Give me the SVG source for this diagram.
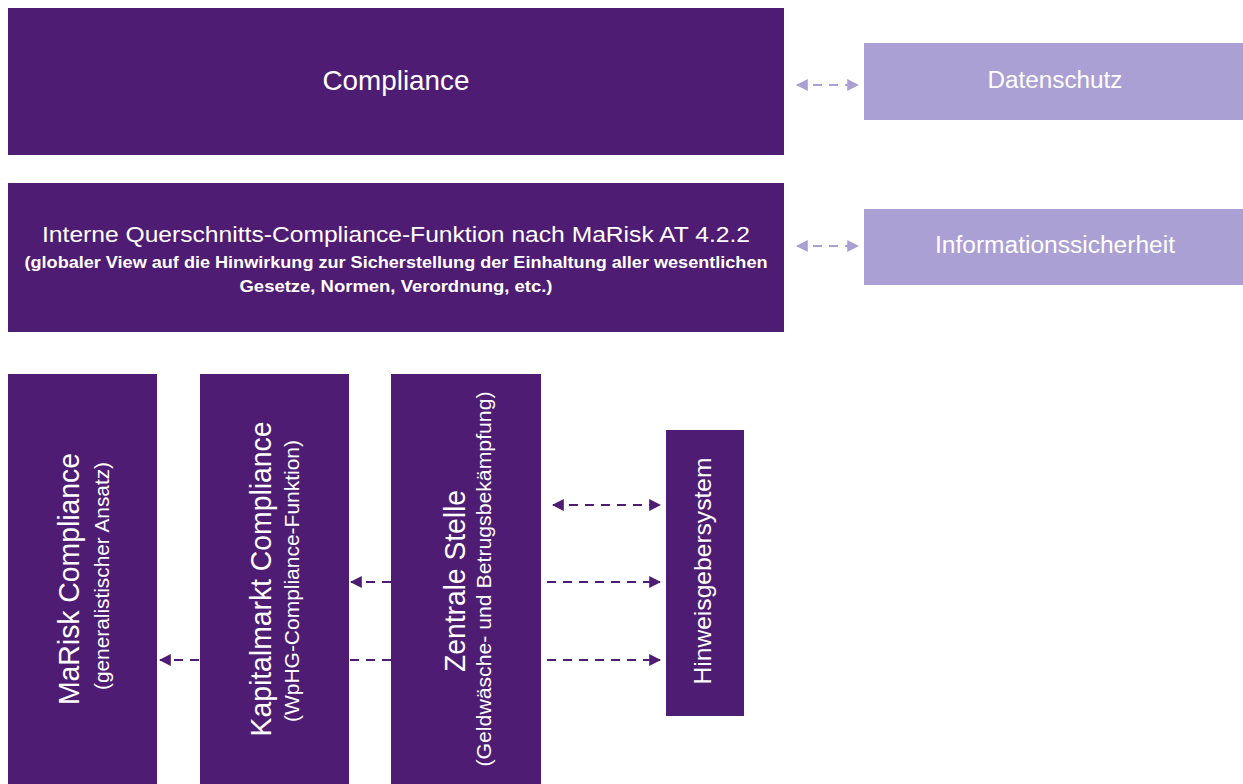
<svg xmlns="http://www.w3.org/2000/svg" width="1243" height="784" viewBox="0 0 1243 784">
<style>
.dark{fill:#4f1c73}
.light{fill:#aba0d4}
.t{font-family:"Liberation Sans",Arial,sans-serif;fill:#ffffff;text-anchor:middle}
.b{font-weight:bold}
.cl{fill:none;stroke:#aba0d4;stroke-width:2;stroke-dasharray:9,7}
.cd{fill:none;stroke:#4f1c73;stroke-width:2;stroke-dasharray:9,7}
</style>
<defs>
<marker id="aL" viewBox="0 0 10 10" refX="9" refY="5" markerWidth="6" markerHeight="6" orient="auto-start-reverse" markerUnits="strokeWidth"><path d="M0,0 L10,5 L0,10 z" fill="#aba0d4"/></marker>
<marker id="aD" viewBox="0 0 10 10" refX="9" refY="5" markerWidth="6" markerHeight="6" orient="auto-start-reverse" markerUnits="strokeWidth"><path d="M0,0 L10,5 L0,10 z" fill="#4f1c73"/></marker>
</defs>
<g id="connectors">
<path class="cl" d="M797,85 H858" marker-start="url(#aL)" marker-end="url(#aL)"/>
<path class="cl" d="M797,246 H858" marker-start="url(#aL)" marker-end="url(#aL)"/>
<path class="cd" d="M553,505 H660" marker-start="url(#aD)" marker-end="url(#aD)"/>
<path class="cd" d="M391,582 H351" marker-end="url(#aD)"/>
<path class="cd" d="M547,582 H660" marker-end="url(#aD)"/>
<path class="cd" d="M391,660 H160" marker-end="url(#aD)"/>
<path class="cd" d="M547,660 H660" marker-end="url(#aD)"/>
</g>
<g id="compliance">
<rect class="dark" x="8" y="8" width="776" height="147"/>
<text class="t" x="396" y="90" font-size="28" textLength="147" lengthAdjust="spacingAndGlyphs">Compliance</text>
</g>
<g id="datenschutz">
<rect class="light" x="864" y="43" width="379" height="77"/>
<text class="t" x="1055" y="88" font-size="23" textLength="135" lengthAdjust="spacingAndGlyphs">Datenschutz</text>
</g>
<g id="querschnitt">
<rect class="dark" x="8" y="183" width="776" height="149"/>
<text class="t" x="396" y="242" font-size="22" textLength="708" lengthAdjust="spacingAndGlyphs">Interne Querschnitts-Compliance-Funktion nach MaRisk AT 4.2.2</text>
<text class="t b" x="396" y="268" font-size="16" textLength="743" lengthAdjust="spacingAndGlyphs">(globaler View auf die Hinwirkung zur Sicherstellung der Einhaltung aller wesentlichen</text>
<text class="t b" x="396" y="292" font-size="16" textLength="313" lengthAdjust="spacingAndGlyphs">Gesetze, Normen, Verordnung, etc.)</text>
</g>
<g id="informationssicherheit">
<rect class="light" x="864" y="209" width="379" height="76"/>
<text class="t" x="1055" y="253" font-size="23" textLength="240" lengthAdjust="spacingAndGlyphs">Informationssicherheit</text>
</g>
<g id="marisk">
<rect class="dark" x="8" y="374" width="149" height="410"/>
<text class="t" transform="translate(79,579) rotate(-90)" font-size="29" textLength="252" lengthAdjust="spacingAndGlyphs">MaRisk Compliance</text>
<text class="t" transform="translate(109,576) rotate(-90)" font-size="20" textLength="228" lengthAdjust="spacingAndGlyphs">(generalistischer Ansatz)</text>
</g>
<g id="kapitalmarkt">
<rect class="dark" x="200" y="374" width="149" height="410"/>
<text class="t" transform="translate(271,579) rotate(-90)" font-size="29" textLength="315" lengthAdjust="spacingAndGlyphs">Kapitalmarkt Compliance</text>
<text class="t" transform="translate(299,581) rotate(-90)" font-size="20" textLength="282" lengthAdjust="spacingAndGlyphs">(WpHG-Compliance-Funktion)</text>
</g>
<g id="zentrale">
<rect class="dark" x="391" y="374" width="150" height="410"/>
<text class="t" transform="translate(465,581) rotate(-90)" font-size="29" textLength="182" lengthAdjust="spacingAndGlyphs">Zentrale Stelle</text>
<text class="t" transform="translate(491,579) rotate(-90)" font-size="20" textLength="375" lengthAdjust="spacingAndGlyphs">(Geldwäsche- und Betrugsbekämpfung)</text>
</g>
<g id="hinweisgeber">
<rect class="dark" x="666" y="430" width="78" height="286"/>
<text class="t" transform="translate(711,571) rotate(-90)" font-size="24" textLength="227" lengthAdjust="spacingAndGlyphs">Hinweisgebersystem</text>
</g>
</svg>
